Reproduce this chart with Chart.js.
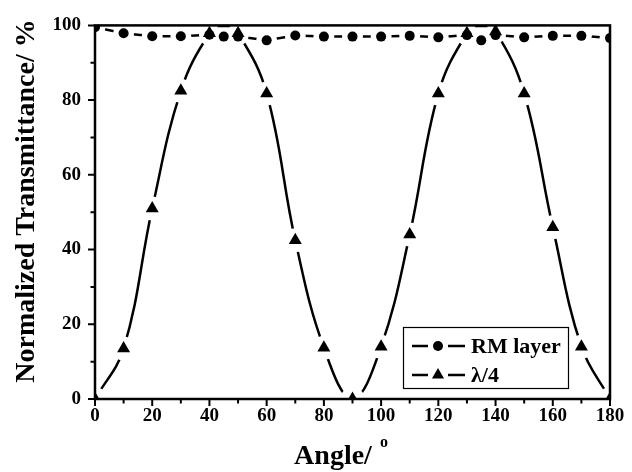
<!DOCTYPE html>
<html><head><meta charset="utf-8">
<script src="https://cdn.jsdelivr.net/npm/chart.js@4/dist/chart.umd.min.js"></script>
<style>html,body{margin:0;padding:0;background:#fff}canvas{display:block}</style>
</head><body>
<canvas id="c" width="632" height="472"></canvas>
<script>
// ---- data ----
const angles = [0,10,20,30,40,45,50,60,70,80,90,100,110,120,130,135,140,150,160,170,180];
const rmLayer = [99.5,97.9,97.1,97.1,97.5,97,97,96,97.3,97,97,97,97.2,96.8,97.4,96,97.4,96.8,97.2,97.2,96.6];
const quarterWave = [0,13.5,51,82.5,97.9,100.5,97.9,81.8,42.5,13.7,0,14,44,81.8,97.9,100.5,98.4,81.8,46,14,0];
const xTicks = [0,20,40,60,80,100,120,140,160,180];
const yTicks = [0,20,40,60,80,100];
const seriesNames = ['RM layer','λ/4'];
const xTitle = 'Angle/ ';
const xTitleSup = 'o';
const yTitle = 'Normalized Transmittance/ %';

const FONT = '"Liberation Serif","Times New Roman",serif';
const toXY = (ys) => angles.map((a,i)=>({x:a,y:ys[i]}));

const gapPlugin = {
  id:'gapLines',
  beforeDatasetDraw(chart,args){
    const ds = chart.data.datasets[args.index];
    if(!ds.gapRadius) return;
    const ctx = chart.ctx;
    const meta = chart.getDatasetMeta(args.index);
    ctx.save();
    meta.data.forEach(el=>{
      ctx.beginPath();
      ctx.rect(0,0,chart.width,chart.height);
      ctx.moveTo(el.x+ds.gapRadius, el.y);
      ctx.arc(el.x, el.y, ds.gapRadius, 0, Math.PI*2);
      ctx.clip('evenodd');
    });
  },
  afterDatasetDraw(chart,args){
    const ds = chart.data.datasets[args.index];
    if(!ds.gapRadius) return;
    chart.ctx.restore();
  }
};

const decoPlugin = {
  id:'deco',
  afterDraw(chart){
    const {ctx, chartArea:a, scales:{x,y}} = chart;
    ctx.save();
    ctx.strokeStyle='#000'; ctx.fillStyle='#000';
    // frame
    ctx.lineWidth=2.5;
    ctx.strokeRect(a.left,a.top,a.right-a.left,a.bottom-a.top);
    // ticks (major + minor)
    ctx.lineWidth=2;
    ctx.beginPath();
    for(let v=x.min; v<=x.max; v+=10){
      const px=x.getPixelForValue(v); const len = (v%20===0)?7:4.5;
      ctx.moveTo(px,a.bottom); ctx.lineTo(px,a.bottom+len);
    }
    for(let v=y.min; v<=y.max; v+=10){
      const py=y.getPixelForValue(v); const len = (v%20===0)?7:4.5;
      ctx.moveTo(a.left,py); ctx.lineTo(a.left-len,py);
    }
    ctx.stroke();
    // axis titles
    ctx.textBaseline='alphabetic';
    ctx.textAlign='left';
    ctx.font = 'bold 28px '+FONT;
    const w = ctx.measureText(xTitle).width;
    ctx.font = 'bold 16px '+FONT;
    const ws = ctx.measureText(xTitleSup).width;
    const cx = (a.left+a.right)/2 - 12;
    const x0 = cx - (w+ws)/2;
    ctx.font = 'bold 28px '+FONT;
    ctx.fillText(xTitle, x0, 464);
    ctx.font = 'bold 16px '+FONT;
    ctx.fillText(xTitleSup, x0+w+1, 447);
    ctx.save();
    ctx.translate(34, 201);
    ctx.rotate(-Math.PI/2);
    ctx.textAlign='center';
    ctx.font = 'bold 28px '+FONT;
    ctx.fillText(yTitle, 0, 0);
    ctx.restore();
    // legend
    ctx.lineWidth=1.2;
    ctx.strokeRect(403.5,327.5,165,61);
    const rows=[346,375];
    ctx.lineWidth=2.5;
    rows.forEach((ry,i)=>{
      ctx.beginPath();
      ctx.moveTo(412,ry); ctx.lineTo(428,ry);
      ctx.moveTo(448,ry); ctx.lineTo(465,ry);
      ctx.stroke();
      ctx.beginPath();
      if(i===0){ ctx.arc(438,ry,5,0,Math.PI*2); }
      else { const r=7; ctx.moveTo(438,ry-r); ctx.lineTo(438+r*0.866,ry+r*0.5); ctx.lineTo(438-r*0.866,ry+r*0.5); ctx.closePath(); }
      ctx.fill();
      ctx.font='bold 22px '+FONT;
      ctx.textAlign='left';
      ctx.fillText(seriesNames[i], 471, ry+7);
    });
    ctx.restore();
  }
};

new Chart(document.getElementById('c'), {
  type:'line',
  data:{
    datasets:[
      {label:seriesNames[0]+' points', data:toXY(rmLayer), showLine:false, pointStyle:'circle', pointRadius:5, pointHoverRadius:5, pointBackgroundColor:'#000', pointBorderWidth:0, borderColor:'#000'},
      {label:seriesNames[1]+' points', data:toXY(quarterWave), showLine:false, pointStyle:'triangle', pointRadius:7.5, pointHoverRadius:7.5, pointBackgroundColor:'#000', pointBorderWidth:0, borderColor:'#000'},
      {label:seriesNames[0], data:toXY(rmLayer), borderColor:'#000', borderWidth:2.5, pointRadius:0, tension:0, gapRadius:10.5},
      {label:seriesNames[1], data:toXY(quarterWave), borderColor:'#000', borderWidth:2.5, pointRadius:0, tension:0.4, gapRadius:12}
    ]
  },
  options:{
    responsive:false, animation:false, devicePixelRatio:1,
    layout:{padding:{left:0,right:22,top:17,bottom:0}},
    plugins:{legend:{display:false}, tooltip:{enabled:false}},
    events:[],
    scales:{
      x:{type:'linear', min:0, max:180,
        afterBuildTicks:s=>{s.ticks=xTicks.map(v=>({value:v}));},
        afterFit:s=>{s.height=73;},
        ticks:{font:{family:FONT,size:19,weight:'bold'}, color:'#000', padding:6, maxRotation:0, autoSkip:false},
        grid:{display:false, drawTicks:false}, border:{display:false}},
      y:{type:'linear', min:0, max:100,
        afterBuildTicks:s=>{s.ticks=yTicks.map(v=>({value:v}));},
        afterFit:s=>{s.width=95;},
        ticks:{font:{family:FONT,size:19,weight:'bold'}, color:'#000', padding:14},
        grid:{display:false, drawTicks:false}, border:{display:false}}
    }
  },
  plugins:[gapPlugin, decoPlugin]
});
</script>
</body></html>
